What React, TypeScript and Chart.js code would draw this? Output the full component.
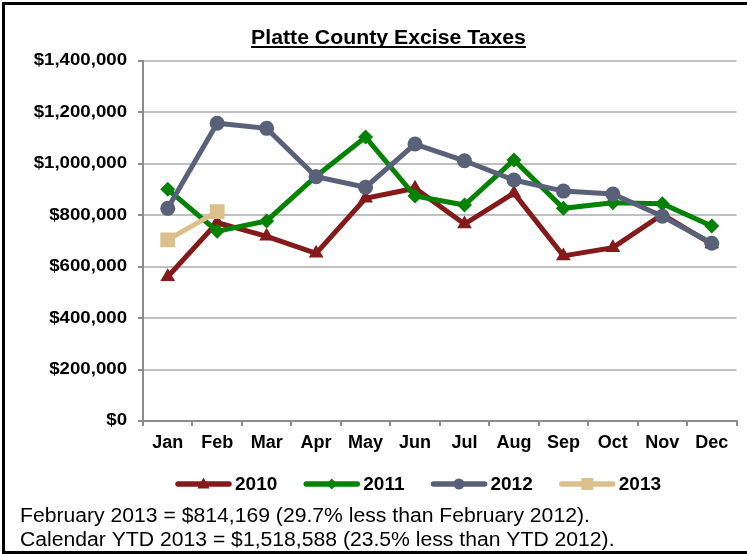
import React, { useEffect, useRef } from "react";
import { Chart, registerables } from "chart.js";

Chart.register(...registerables);

const months = ["Jan", "Feb", "Mar", "Apr", "May", "Jun", "Jul", "Aug", "Sep", "Oct", "Nov", "Dec"];
const values2010 = [561000, 772000, 718000, 652000, 866000, 905000, 766000, 886000, 642000, 674000, 803000, 688000];
const values2011 = [901000, 738000, 778000, 952000, 1104000, 875000, 840000, 1015000, 827000, 849000, 845000, 758000];
const values2012 = [826947, 1158135, 1138000, 950000, 909000, 1077000, 1012000, 937000, 894000, 883000, 796000, 691000];
const values2013 = [704419, 814169];
const seriesNames = ["2010", "2011", "2012", "2013"];
const titleText = "Platte County Excise Taxes";
const noteLines = [
  "February 2013 = $814,169 (29.7% less than February 2012).",
  "Calendar YTD 2013 = $1,518,588 (23.5% less than YTD 2012).",
];

const COLORS = ["#841a1a", "#038203", "#596178", "#dcc08c"];
const STYLES = ["triangle", "rectRot", "circle", "rect"];
const RADII = [8.5, 7.5, 7.5, 10.5];

const FONT = "'Liberation Sans', Arial, sans-serif";

function drawStretched(ctx: CanvasRenderingContext2D, text: string, x: number, y: number, font: string, sx: number, align: string, baseline: CanvasTextBaseline = "alphabetic") {
  ctx.save();
  ctx.font = font;
  ctx.textBaseline = baseline;
  ctx.textAlign = "left";
  const w = ctx.measureText(text).width * sx;
  const left = align === "center" ? x - w / 2 : align === "right" ? x - w : x;
  ctx.translate(left, y);
  ctx.scale(sx, 1);
  ctx.fillText(text, 0, 0);
  ctx.restore();
  return { left, w };
}

function drawMarker(ctx: CanvasRenderingContext2D, style: string, x: number, y: number, color: string) {
  ctx.save();
  ctx.fillStyle = color;
  ctx.beginPath();
  if (style === "triangle") {
    ctx.moveTo(x, y - 6.5);
    ctx.lineTo(x + 6, y + 4.5);
    ctx.lineTo(x - 6, y + 4.5);
    ctx.closePath();
  } else if (style === "rectRot") {
    ctx.moveTo(x, y - 5.5);
    ctx.lineTo(x + 5.5, y);
    ctx.lineTo(x, y + 5.5);
    ctx.lineTo(x - 5.5, y);
    ctx.closePath();
  } else if (style === "circle") {
    ctx.arc(x, y, 5.5, 0, Math.PI * 2);
  } else {
    ctx.rect(x - 6, y - 6, 12, 12);
  }
  ctx.fill();
  ctx.restore();
}

const decorPlugin = {
  id: "decor",
  afterDraw(chart: any) {
    const ctx: CanvasRenderingContext2D = chart.ctx;
    ctx.save();
    // frame
    ctx.fillStyle = "#000";
    ctx.fillRect(2, 2, 745, 3);
    ctx.fillRect(2, 2, 3, 552);
    ctx.fillRect(2, 551, 745, 3);

    // title
    ctx.fillStyle = "#000";
    const t = drawStretched(ctx, titleText, 388.5, 44, `bold 19.5px ${FONT}`, 1.09, "center");
    ctx.fillRect(t.left, 46, t.w, 2);

    // y tick labels
    const ys = chart.scales.y;
    ys.ticks.forEach((tk: any) => {
      const py = ys.getPixelForValue(tk.value);
      const label = "$" + Math.round(tk.value).toLocaleString("en-US");
      drawStretched(ctx, label, 127, py, `bold 16px ${FONT}`, 1.165, "right", "middle");
    });

    // legend
    let x = 176;
    const ly = 484;
    seriesNames.forEach((name, i) => {
      ctx.save();
      ctx.strokeStyle = COLORS[i];
      ctx.lineWidth = 5.5;
      ctx.lineCap = "round";
      ctx.beginPath();
      ctx.moveTo(x + 2, ly);
      ctx.lineTo(x + 53, ly);
      ctx.stroke();
      ctx.restore();
      drawMarker(ctx, STYLES[i], x + 27.5, ly, COLORS[i]);
      ctx.fillStyle = "#000";
      const r = drawStretched(ctx, name, x + 59, ly + 1, `bold 19px ${FONT}`, 1.0, "left", "middle");
      x = r.left + r.w + 27;
    });

    // notes
    ctx.fillStyle = "#000";
    drawStretched(ctx, noteLines[0], 20, 522, `19.5px ${FONT}`, 1.085, "left");
    drawStretched(ctx, noteLines[1], 20, 546, `19.5px ${FONT}`, 1.085, "left");
    ctx.restore();
  },
};

export default function App() {
  const ref = useRef<HTMLCanvasElement | null>(null);
  useEffect(() => {
    document.body.style.margin = "0";
    const canvas = ref.current;
    if (!canvas) return;
    const all = [values2010, values2011, values2012, values2013];
    const chart = new Chart(canvas, {
      type: "line",
      data: {
        labels: months,
        datasets: all.map((vals, i) => ({
          label: seriesNames[i],
          data: vals,
          borderColor: COLORS[i],
          backgroundColor: COLORS[i],
          borderWidth: 5,
          pointStyle: STYLES[i] as any,
          pointRadius: RADII[i],
          pointBorderWidth: 0,
          pointBackgroundColor: COLORS[i],
          tension: 0,
          fill: false,
          order: 4 - i,
        })),
      },
      options: {
        responsive: false,
        animation: false,
        devicePixelRatio: 1,
        layout: { padding: { top: 61, right: 4, left: 0, bottom: 0 } },
        plugins: {
          legend: { display: false },
          title: { display: false },
          tooltip: { enabled: false },
        },
        scales: {
          x: {
            type: "category",
            offset: true,
            grid: {
              offset: true,
              drawOnChartArea: false,
              drawTicks: true,
              tickLength: 5,
              tickColor: "#8c8c8c",
              lineWidth: 2,
              color: "#8c8c8c",
            },
            border: { display: true, color: "#8c8c8c", width: 2 },
            ticks: {
              color: "#000",
              font: { family: FONT, size: 18, weight: "bold" },
              padding: 6,
              maxRotation: 0,
              autoSkip: false,
            },
            afterFit: (s: any) => {
              s.height = 133;
            },
          },
          y: {
            min: 0,
            max: 1400000,
            grid: {
              color: "#c0c0c0",
              lineWidth: 2,
              drawTicks: true,
              tickLength: 5,
              tickColor: "#8c8c8c",
            },
            border: { display: true, color: "#8c8c8c", width: 2 },
            ticks: { stepSize: 200000, display: false },
            afterFit: (s: any) => {
              s.width = 143;
            },
          },
        },
      },
      plugins: [decorPlugin],
    });
    return () => chart.destroy();
  }, []);
  return (
    <div style={{ width: 747, height: 554, background: "#fff" }}>
      <canvas ref={ref} width={747} height={554} style={{ display: "block" }} />
    </div>
  );
}
